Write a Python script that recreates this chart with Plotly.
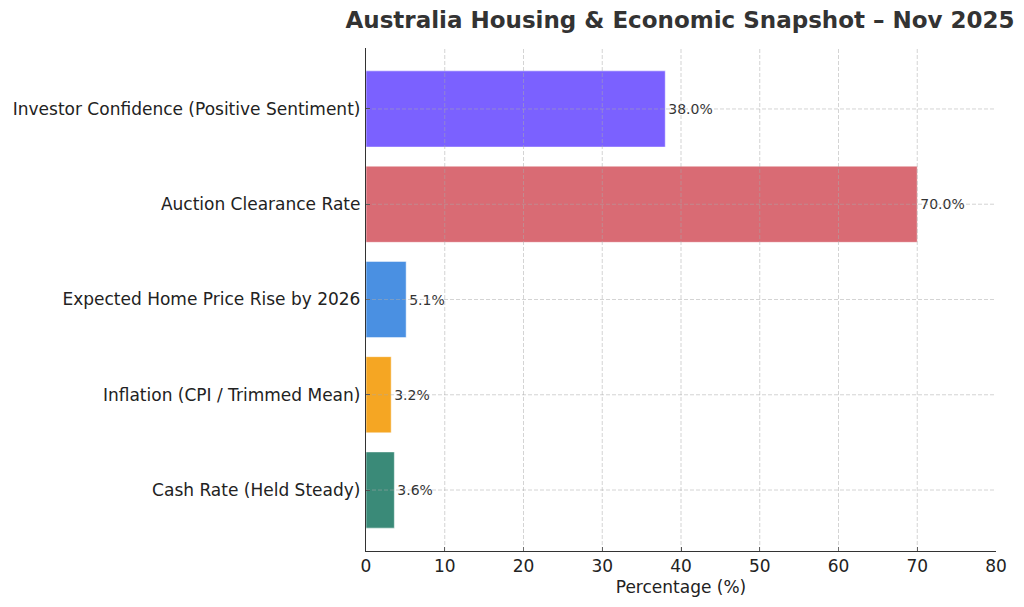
import plotly.graph_objects as go

categories = ["Cash Rate (Held Steady)", "Inflation (CPI / Trimmed Mean)",
              "Expected Home Price Rise by 2026", "Auction Clearance Rate",
              "Investor Confidence (Positive Sentiment)"]
values = [3.6, 3.2, 5.1, 70.0, 38.0]
colors = ["#3a8a78", "#f5a623", "#4a90e2", "#d96b74", "#7b61ff"]
xticks = [0, 10, 20, 30, 40, 50, 60, 70, 80]

ypos = list(range(len(categories)))
grid_color = "rgba(170,170,170,0.5)"
grid_dash = "4px,2px"

fig = go.Figure()
fig.add_trace(go.Bar(
    y=ypos, x=values, orientation="h",
    width=0.8,
    marker=dict(color=colors, line=dict(color="rgba(255,255,255,0.5)", width=1)),
    text=[f"{v:.1f}%" for v in values], textposition="outside",
    textfont=dict(size=14, color="#333333", family="DejaVu Sans"),
    cliponaxis=False, hoverinfo="skip",
))

# grid drawn above bars, as in the reference
shapes = []
for t in xticks[1:-1]:
    shapes.append(dict(type="line", xref="x", yref="paper", x0=t, x1=t, y0=0, y1=1,
                       line=dict(color=grid_color, width=1, dash=grid_dash), layer="above"))
for p in ypos:
    shapes.append(dict(type="line", xref="paper", yref="y", x0=0, x1=1, y0=p, y1=p,
                       line=dict(color=grid_color, width=1, dash=grid_dash), layer="above"))

fig.update_layout(
    width=1008, height=591,
    margin=dict(l=358, r=20, t=40, b=48, autoexpand=False),
    paper_bgcolor="white", plot_bgcolor="white",
    font=dict(family="DejaVu Sans", color="#222222"),
    title=dict(text="<b>Australia Housing & Economic Snapshot – Nov 2025</b>",
               x=0.6667, xanchor="center", y=0.9797, yanchor="middle",
               font=dict(size=23, color="#333333", family="DejaVu Sans"),
               automargin=False),
    showlegend=False,
    shapes=shapes,
)
fig.update_xaxes(
    range=[0, 80], tickvals=xticks, ticktext=[str(t) for t in xticks],
    showgrid=False, automargin=False,
    showline=True, linecolor="#333333", linewidth=1.3,
    ticks="inside", ticklen=4, tickcolor="#333333",
    ticklabelstandoff=-1,
    tickfont=dict(size=17), zeroline=False,
    title=dict(text="Percentage (%)", font=dict(size=17), standoff=6),
)
fig.update_yaxes(
    range=[-0.64, 4.64], tickvals=ypos, ticktext=categories,
    showgrid=False, automargin=False,
    showline=True, linecolor="#333333", linewidth=1.3,
    ticks="inside", ticklen=4, tickcolor="#333333",
    ticklabelstandoff=1,
    tickfont=dict(size=17), zeroline=False,
)

fig.write_html("out.html")
